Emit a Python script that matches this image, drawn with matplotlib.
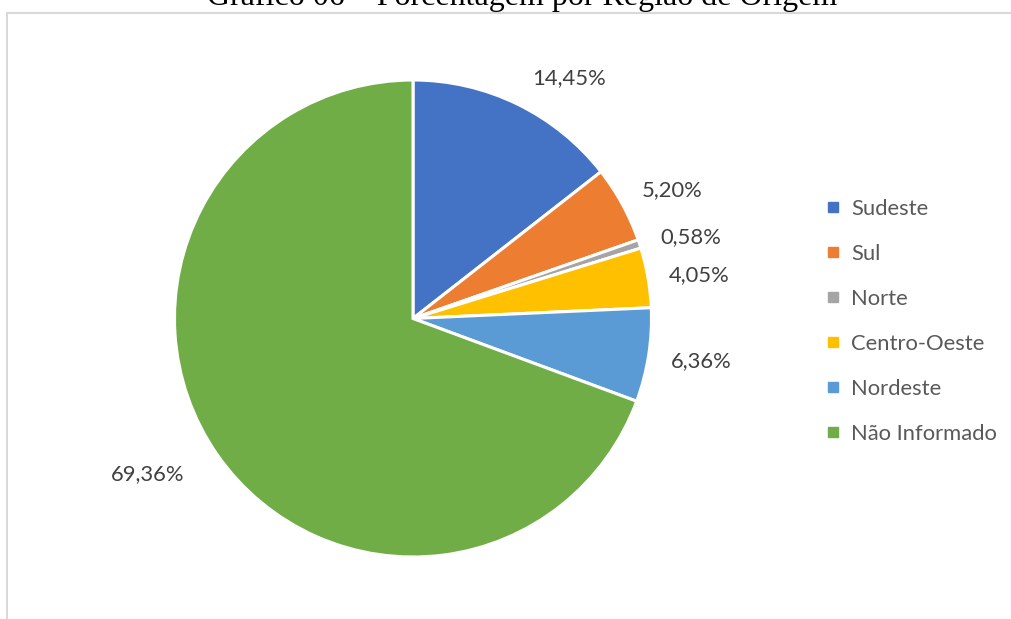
import matplotlib
import matplotlib.pyplot as plt
from matplotlib.patches import Rectangle
from matplotlib.lines import Line2D

plt.rcParams['font.family'] = ['Lato', 'DejaVu Sans']

regioes = ['Sudeste', 'Sul', 'Norte', 'Centro-Oeste', 'Nordeste', 'Não Informado']
percentuais = [14.45, 5.20, 0.58, 4.05, 6.36, 69.36]
cores = ['#4472C4', '#ED7D31', '#A5A5A5', '#FFC000', '#5B9BD5', '#70AD47']

# where each value label sits, in units of the pie radius
pos_rotulos = [(0.655, 1.008), (1.088, 0.538), (1.166, 0.343),
               (1.200, 0.183), (1.208, -0.180), (-1.113, -0.651)]

W, H = 1011, 619
fig = plt.figure(figsize=(W / 100, H / 100), dpi=100)

# light frame around the chart area
fig.patches.append(Rectangle((7 / W, -0.1), 1.1, (H - 12.5) / H + 0.1,
                             transform=fig.transFigure, fill=False,
                             edgecolor='#D9D9D9', linewidth=1.5))

fig.text(0.5165, 1 - 5.5 / H, 'Gráfico 06 – Porcentagem por Região de Origem',
         ha='center', va='baseline', fontsize=23,
         family='Liberation Serif', color='black')

cx, cy, r = 413, 318.5, 238.5
ax = fig.add_axes([(cx - r) / W, (H - cy - r) / H, 2 * r / W, 2 * r / H])
wedges, _ = ax.pie(percentuais, colors=cores, startangle=90, counterclock=False,
                   radius=1, wedgeprops=dict(edgecolor='white', linewidth=2.2))
ax.set_xlim(-1, 1)
ax.set_ylim(-1, 1)
ax.set_aspect('equal')
ax.axis('off')

for val, (x, y) in zip(percentuais, pos_rotulos):
    ax.text(x, y, f'{val:.2f}%'.replace('.', ','), ha='center', va='center',
            fontsize=15.8, color='#404040', clip_on=False)

handles = [Line2D([], [], marker='s', linestyle='none', markersize=6.5,
                  markerfacecolor=c, markeredgecolor=c) for c in cores]
leg = fig.legend(handles, regioes, loc='upper left',
                 bbox_to_anchor=(826 / W, 1 - 199 / H), frameon=False,
                 fontsize=15.8, labelspacing=1.14, handlelength=0.6,
                 handletextpad=0.55, borderpad=0, borderaxespad=0)
for t in leg.get_texts():
    t.set_color('#595959')

fig.savefig('out.png', dpi=100)
